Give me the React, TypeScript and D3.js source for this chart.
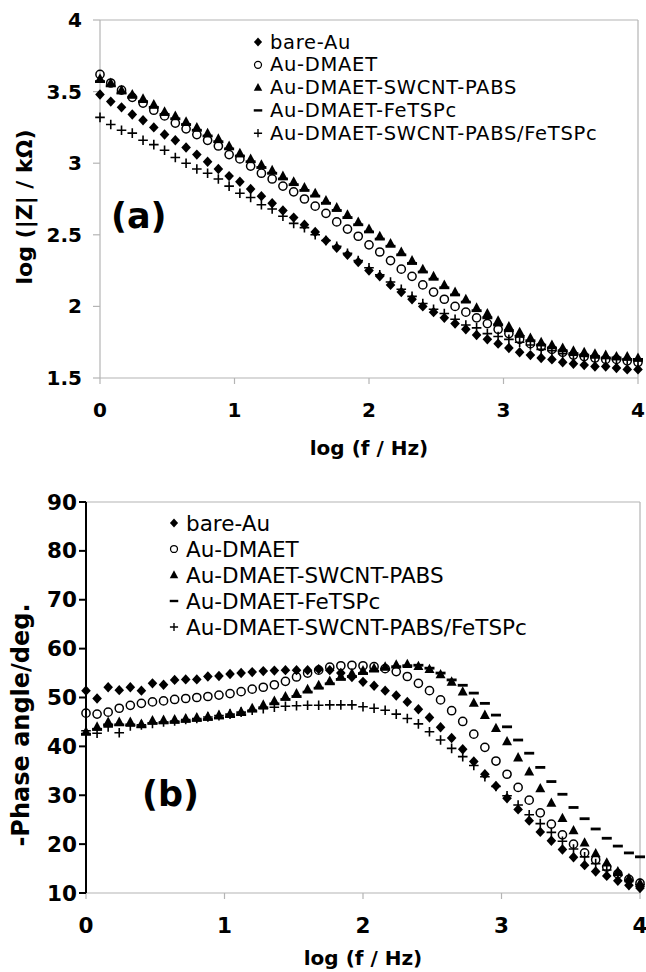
import React from 'react';
import * as d3 from 'd3';

const logF = [0, 0.08, 0.16, 0.24, 0.32, 0.4, 0.48, 0.56, 0.64, 0.72, 0.8, 0.88, 0.96, 1.04, 1.12, 1.2, 1.28, 1.36, 1.44, 1.52, 1.6, 1.68, 1.76, 1.84, 1.92, 2.0, 2.08, 2.16, 2.24, 2.32, 2.4, 2.48, 2.56, 2.64, 2.72, 2.8, 2.88, 2.96, 3.04, 3.12, 3.2, 3.28, 3.36, 3.44, 3.52, 3.6, 3.68, 3.76, 3.84, 3.92, 4.0];

const seriesNames = ['bare-Au', 'Au-DMAET', 'Au-DMAET-SWCNT-PABS', 'Au-DMAET-FeTSPc', 'Au-DMAET-SWCNT-PABS/FeTSPc'];
const seriesMarkers = ['diamond', 'circle', 'triangle', 'dash', 'plus'];

// (a) log(|Z| / kOhm)
const zBare = [3.48, 3.43, 3.39, 3.34, 3.30, 3.25, 3.20, 3.16, 3.11, 3.06, 3.01, 2.96, 2.91, 2.87, 2.82, 2.77, 2.72, 2.67, 2.62, 2.57, 2.52, 2.46, 2.41, 2.36, 2.31, 2.25, 2.21, 2.15, 2.10, 2.05, 2.00, 1.96, 1.92, 1.88, 1.84, 1.80, 1.77, 1.74, 1.71, 1.68, 1.66, 1.64, 1.63, 1.61, 1.60, 1.59, 1.58, 1.58, 1.57, 1.56, 1.56];
const zDmaet = [3.62, 3.56, 3.51, 3.46, 3.42, 3.37, 3.33, 3.28, 3.24, 3.20, 3.16, 3.12, 3.06, 3.03, 2.98, 2.93, 2.89, 2.84, 2.80, 2.75, 2.70, 2.65, 2.59, 2.54, 2.49, 2.43, 2.38, 2.32, 2.26, 2.21, 2.15, 2.10, 2.05, 2.00, 1.96, 1.92, 1.88, 1.84, 1.81, 1.77, 1.74, 1.72, 1.70, 1.68, 1.66, 1.65, 1.64, 1.63, 1.63, 1.62, 1.61];
const zPabs = [3.59, 3.56, 3.51, 3.48, 3.45, 3.41, 3.36, 3.33, 3.29, 3.25, 3.21, 3.17, 3.12, 3.07, 3.03, 2.99, 2.95, 2.91, 2.87, 2.83, 2.79, 2.74, 2.69, 2.64, 2.59, 2.54, 2.49, 2.44, 2.38, 2.32, 2.26, 2.21, 2.15, 2.10, 2.05, 1.99, 1.95, 1.90, 1.86, 1.82, 1.78, 1.75, 1.73, 1.71, 1.69, 1.68, 1.67, 1.66, 1.65, 1.65, 1.64];
const zFe = [3.57, 3.54, 3.49, 3.46, 3.43, 3.39, 3.34, 3.31, 3.27, 3.23, 3.19, 3.15, 3.10, 3.05, 3.01, 2.97, 2.93, 2.89, 2.85, 2.81, 2.77, 2.72, 2.67, 2.62, 2.57, 2.52, 2.47, 2.42, 2.36, 2.30, 2.24, 2.19, 2.13, 2.08, 2.03, 1.97, 1.92, 1.87, 1.83, 1.79, 1.76, 1.73, 1.71, 1.69, 1.67, 1.66, 1.65, 1.64, 1.64, 1.63, 1.63];
const zMix = [3.32, 3.27, 3.23, 3.21, 3.16, 3.13, 3.09, 3.04, 3.00, 2.96, 2.93, 2.89, 2.84, 2.79, 2.76, 2.71, 2.68, 2.63, 2.58, 2.55, 2.50, 2.46, 2.42, 2.37, 2.32, 2.27, 2.22, 2.17, 2.12, 2.07, 2.02, 1.98, 1.95, 1.91, 1.87, 1.85, 1.81, 1.79, 1.77, 1.75, 1.73, 1.70, 1.69, 1.67, 1.66, 1.65, 1.64, 1.64, 1.63, 1.63, 1.62];

// (b) -Phase angle / deg
const pBare = [51.4, 49.8, 52.1, 51.5, 52.1, 51.4, 52.9, 52.6, 53.6, 53.7, 53.7, 54.3, 54.4, 54.8, 55.0, 55.2, 55.4, 55.5, 55.6, 55.6, 55.6, 55.8, 55.6, 55.0, 54.2, 53.2, 52.4, 51.4, 50.4, 49.1, 47.6, 45.9, 43.9, 41.7, 39.4, 36.9, 34.3, 31.9, 29.4, 27.1, 24.8, 22.5, 20.7, 18.9, 17.3, 15.7, 14.4, 13.5, 12.5, 11.6, 11.0];
const pDmaet = [46.8, 46.6, 47.0, 47.8, 48.4, 48.8, 49.1, 49.3, 49.6, 49.8, 50.0, 50.2, 50.5, 50.8, 51.2, 51.7, 52.1, 52.6, 53.3, 54.2, 55.0, 55.6, 56.2, 56.5, 56.6, 56.5, 56.3, 55.9, 55.3, 54.3, 52.9, 51.4, 49.5, 47.3, 45.1, 42.5, 39.8, 37.0, 34.3, 31.6, 29.0, 26.4, 24.1, 21.9, 20.0, 18.2, 16.8, 15.3, 13.9, 12.8, 12.0];
const pPabs = [43.0, 44.0, 45.0, 45.0, 45.0, 44.6, 45.3, 45.4, 45.5, 45.7, 45.9, 46.1, 46.4, 46.7, 47.1, 47.8, 48.5, 49.3, 50.2, 50.8, 51.7, 52.5, 53.4, 54.3, 54.9, 55.5, 56.0, 56.3, 56.7, 56.8, 56.4, 55.8, 54.7, 53.2, 51.2, 48.9, 46.4, 43.7, 41.0, 37.7, 34.8, 31.4, 28.4, 25.3, 22.8, 20.3, 18.1, 16.2, 14.4, 13.0, 12.0];
const pFe = [42.5, 43.5, 44.4, 44.4, 44.4, 44.0, 44.7, 44.8, 44.9, 45.1, 45.3, 45.5, 45.8, 46.1, 46.5, 47.2, 47.9, 48.7, 49.6, 50.2, 51.1, 51.9, 52.8, 53.7, 54.3, 54.9, 55.4, 55.8, 56.3, 56.5, 56.6, 56.0, 55.0, 53.6, 52.5, 50.9, 48.8, 46.4, 44.0, 41.3, 38.6, 35.7, 32.8, 30.2, 27.5, 25.2, 23.1, 21.2, 19.6, 18.2, 17.4];
const pMix = [43.2, 42.7, 44.0, 42.8, 44.2, 44.4, 44.7, 45.0, 45.2, 45.5, 45.7, 46.0, 46.3, 46.6, 47.0, 47.4, 47.7, 48.0, 48.2, 48.3, 48.4, 48.4, 48.5, 48.5, 48.5, 48.1, 47.8, 47.4, 46.6, 45.7, 44.6, 43.0, 41.3, 39.6, 37.9, 36.1, 33.8, 31.8, 29.9, 28.0, 26.0, 24.2, 22.4, 20.6, 19.0, 17.4, 16.0, 14.7, 13.6, 12.6, 11.7];

const xTicks = [0, 1, 2, 3, 4];
const zTicks = [1.5, 2, 2.5, 3, 3.5, 4];
const pTicks = [10, 20, 30, 40, 50, 60, 70, 80, 90];

const FONT = '"DejaVu Sans", Verdana, sans-serif';

function Marker({ kind, x, y, s = 1 }: { kind: string; x: number; y: number; s?: number }) {
  const t = `translate(${x},${y}) scale(${s})`;
  if (kind === 'diamond') return <path transform={t} d="M0,-5.2L4.8,0L0,5.2L-4.8,0Z" fill="#000" />;
  if (kind === 'circle') return <circle transform={t} r={4.1} fill="none" stroke="#000" strokeWidth={1.5} />;
  if (kind === 'triangle') return <path transform={t} d="M0,-5.5L5,3.8L-5,3.8Z" fill="#000" />;
  if (kind === 'dash') return <rect transform={t} x={-5} y={-1.4} width={10} height={2.8} fill="#000" />;
  return <path transform={t} d="M-4.8,0H4.8M0,-4.8V4.8" stroke="#000" strokeWidth={1.6} fill="none" />;
}

type PanelProps = {
  x0: number; x1: number; y0: number; y1: number;
  yDomain: [number, number]; yTicks: number[]; yFmt: (v: number) => string;
  series: number[][]; leftAxisDark: boolean; yLabelRight: number; tickFont: number;
  xTickLabelY: number; xTitleY: number; yTitleX: number; yTitleY: number; yTitleFont: number; yTitle: string;
  legendX: number; legendY: number; legendStep: number; legendFont: number; legendSpacing: number;
  tag: string; tagX: number; tagY: number;
};

function Panel(p: PanelProps) {
  const x = d3.scaleLinear().domain([0, 4]).range([p.x0, p.x1]);
  const y = d3.scaleLinear().domain(p.yDomain).range([p.y1, p.y0]);
  const gray = '#b4b4b4';
  const axisCol = p.leftAxisDark ? '#000' : gray;
  return (
    <g>
      <line x1={x(0)} x2={x(4)} y1={p.y0} y2={p.y0} stroke={gray} strokeWidth={1.2} />
      <line x1={p.x1} x2={p.x1} y1={p.y0} y2={p.y1} stroke={gray} strokeWidth={1.2} />
      <line x1={x(0)} x2={x(4)} y1={p.y1} y2={p.y1} stroke={gray} strokeWidth={1.2} />
      {xTicks.map((t) => (
        <g key={'xt' + t}>
          <line x1={x(t)} x2={x(t)} y1={p.y1} y2={p.y1 + 6} stroke={gray} strokeWidth={1.2} />
          <text x={x(t)} y={p.xTickLabelY} textAnchor="middle" dominantBaseline="central" fontFamily={FONT} fontWeight="bold" fontSize={p.tickFont}>{t}</text>
        </g>
      ))}
      <line x1={p.x0} x2={p.x0} y1={p.y0} y2={p.y1} stroke={axisCol} strokeWidth={p.leftAxisDark ? 2 : 1.2} />
      {p.yTicks.map((t) => (
        <g key={'yt' + t}>
          <line x1={p.x0 - 7} x2={p.x0} y1={y(t)} y2={y(t)} stroke={axisCol} strokeWidth={p.leftAxisDark ? 2 : 1.2} />
          <text x={p.yLabelRight} y={y(t)} textAnchor="end" dominantBaseline="central" fontFamily={FONT} fontWeight="bold" fontSize={p.tickFont}>{p.yFmt(t)}</text>
        </g>
      ))}
      <text x={(p.x0 + p.x1) / 2} y={p.xTitleY} textAnchor="middle" dominantBaseline="central" fontFamily={FONT} fontWeight="bold" fontSize={20}>log (f / Hz)</text>
      <text transform={`translate(${p.yTitleX},${p.yTitleY}) rotate(-90)`} textAnchor="middle" dominantBaseline="central" fontFamily={FONT} fontWeight="bold" fontSize={p.yTitleFont}>{p.yTitle}</text>
      <text x={p.tagX} y={p.tagY} fontFamily={FONT} fontWeight="bold" fontSize={35}>{p.tag}</text>
      {p.series.map((vals, si) => (
        <g key={'s' + si}>
          {vals.map((v, i) => (
            <Marker key={i} kind={seriesMarkers[si]} x={x(logF[i])} y={y(v)} />
          ))}
        </g>
      ))}
      {seriesNames.map((n, i) => (
        <g key={'lg' + i}>
          <Marker kind={seriesMarkers[i]} x={p.legendX} y={p.legendY + i * p.legendStep} s={0.85} />
          <text x={p.legendX + 12} y={p.legendY + i * p.legendStep} dominantBaseline="central" fontFamily={FONT} fontSize={p.legendFont} letterSpacing={p.legendSpacing}>{n}</text>
        </g>
      ))}
    </g>
  );
}

export default function App() {
  return (
    <div style={{ position: 'absolute', left: 0, top: 0, background: '#fff' }}>
      <svg width={646} height={972} viewBox="0 0 646 972" style={{ display: 'block' }}>
        <rect width={646} height={972} fill="#fff" />
        <Panel
          x0={100} x1={638} y0={20} y1={378}
          yDomain={[1.5, 4]} yTicks={zTicks} yFmt={(v) => String(v)}
          series={[zBare, zDmaet, zPabs, zFe, zMix]} leftAxisDark={false} yLabelRight={82} tickFont={20}
          xTickLabelY={410} xTitleY={448} yTitleX={24} yTitleY={207} yTitleFont={22} yTitle="log (|Z| / kΩ)"
          legendX={258} legendY={42} legendStep={22.8} legendFont={19.5} legendSpacing={0.7}
          tag="(a)" tagX={111} tagY={228}
        />
        <Panel
          x0={86} x1={640} y0={502} y1={893}
          yDomain={[10, 90]} yTicks={pTicks} yFmt={(v) => String(v)}
          series={[pBare, pDmaet, pPabs, pFe, pMix]} leftAxisDark={true} yLabelRight={77} tickFont={21.5}
          xTickLabelY={925} xTitleY={958} yTitleX={21} yTitleY={725} yTitleFont={24} yTitle="-Phase angle/deg."
          legendX={174} legendY={523} legendStep={26} legendFont={21.5} legendSpacing={0}
          tag="(b)" tagX={142} tagY={806}
        />
      </svg>
    </div>
  );
}
